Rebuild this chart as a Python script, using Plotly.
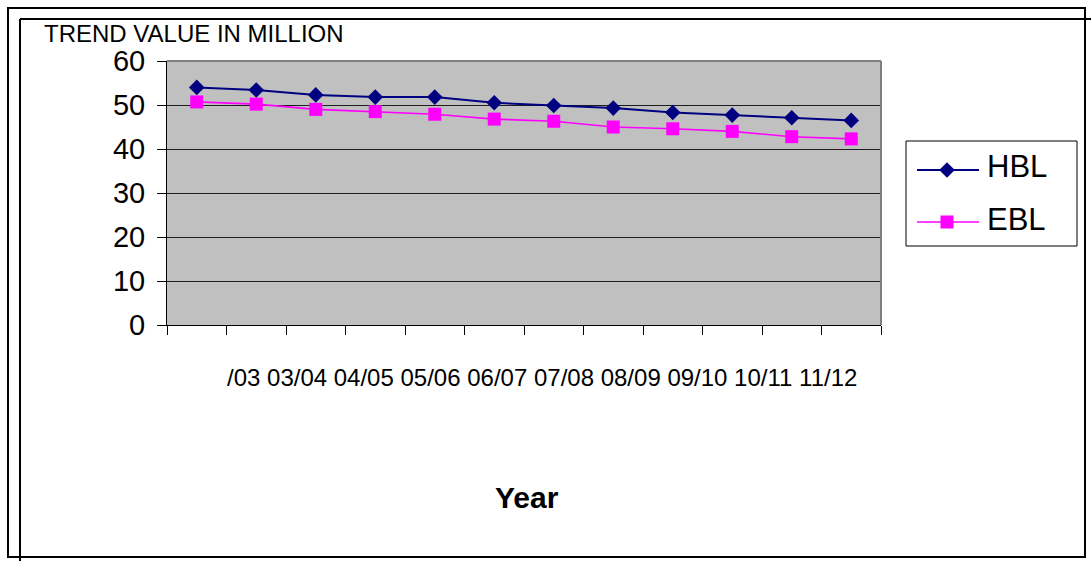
import plotly.graph_objects as go

# Trend values (in million) for the two banks, one point per fiscal year
periods = list(range(1, 13))
hbl = [54.0, 53.4, 52.3, 51.8, 51.8, 50.5, 49.9, 49.3, 48.3, 47.7, 47.1, 46.5]
ebl = [50.7, 50.2, 49.0, 48.5, 47.9, 46.8, 46.3, 45.0, 44.6, 44.0, 42.8, 42.3]
year_labels = ["/03", "03/04", "04/05", "05/06", "06/07", "07/08",
               "08/09", "09/10", "10/11", "11/12"]
y_ticks = [0, 10, 20, 30, 40, 50, 60]

W, H = 1091, 561
FONT = "Liberation Sans, Arial, sans-serif"
NAVY = "#000080"
MAGENTA = "#FF00FF"


def fx(px):
    return px / W


def fy(py):
    return 1 - py / H


# plot area in pixels
PL, PR, PT, PB = 167, 881, 61, 325

fig = go.Figure()

fig.add_trace(go.Scatter(
    x=periods, y=hbl, name="HBL", mode="lines+markers",
    line=dict(color=NAVY, width=2),
    marker=dict(symbol="diamond", size=12, color=NAVY),
    xaxis="x", yaxis="y", showlegend=False,
))
fig.add_trace(go.Scatter(
    x=periods, y=ebl, name="EBL", mode="lines+markers",
    line=dict(color=MAGENTA, width=1.6),
    marker=dict(symbol="square", size=13, color=MAGENTA),
    xaxis="x", yaxis="y", showlegend=False,
))

# legend key samples drawn on a small overlay axis (pixel units)
LG_L, LG_R, LG_T, LG_B = 906, 1077, 141, 246
legend_rows = [("HBL", NAVY, "diamond", 12, 2, 170),
               ("EBL", MAGENTA, "square", 13, 1.6, 222)]
for name, color, sym, size, lw, row_y in legend_rows:
    fig.add_trace(go.Scatter(
        x=[917, 979], y=[row_y, row_y], mode="lines",
        line=dict(color=color, width=lw), xaxis="x2", yaxis="y2",
        showlegend=False, hoverinfo="skip",
    ))
    fig.add_trace(go.Scatter(
        x=[947], y=[row_y], mode="markers",
        marker=dict(symbol=sym, size=size, color=color), xaxis="x2", yaxis="y2",
        showlegend=False, hoverinfo="skip",
    ))

shapes = [
    # plot area fill
    dict(type="rect", xref="paper", yref="paper", x0=fx(PL), x1=fx(PR), y0=fy(PB), y1=fy(PT),
         fillcolor="#C0C0C0", line=dict(width=0), layer="below"),
    # legend box
    dict(type="rect", xref="paper", yref="paper", x0=fx(LG_L), x1=fx(LG_R), y0=fy(LG_B), y1=fy(LG_T),
         fillcolor="white", line=dict(color="black", width=1), layer="below"),
    # plot area top / right border
    dict(type="line", xref="paper", yref="paper", x0=fx(PL), x1=fx(PR), y0=fy(PT), y1=fy(PT),
         line=dict(color="#808080", width=2)),
    dict(type="line", xref="paper", yref="paper", x0=fx(PR), x1=fx(PR), y0=fy(PT), y1=fy(PB),
         line=dict(color="#808080", width=2)),
    # chart frames
    dict(type="rect", xref="paper", yref="paper", x0=fx(8), x1=fx(1085), y0=fy(557), y1=fy(8),
         line=dict(color="black", width=2)),
    dict(type="line", xref="paper", yref="paper", x0=fx(20), x1=fx(1091), y0=fy(19), y1=fy(19),
         line=dict(color="black", width=2)),
    dict(type="line", xref="paper", yref="paper", x0=fx(20), x1=fx(20), y0=fy(19), y1=fy(561),
         line=dict(color="black", width=2)),
]

annotations = [
    dict(text="TREND VALUE IN MILLION", xref="paper", yref="paper", x=fx(42), y=fy(34),
         xanchor="left", yanchor="middle", showarrow=False,
         font=dict(family=FONT, size=24, color="black")),
    dict(text=" ".join(year_labels), xref="paper", yref="paper", x=fx(225), y=fy(377),
         xanchor="left", yanchor="middle", showarrow=False,
         font=dict(family=FONT, size=24, color="black")),
    dict(text="<b>Year</b>", xref="paper", yref="paper", x=fx(527), y=fy(497),
         xanchor="center", yanchor="middle", showarrow=False,
         font=dict(family=FONT, size=30, color="black")),
]
for name, color, sym, size, lw, row_y in legend_rows:
    annotations.append(dict(
        text=name, xref="paper", yref="paper", x=fx(985), y=fy(row_y - 3),
        xanchor="left", yanchor="middle", showarrow=False,
        font=dict(family=FONT, size=31, color="black")))

fig.update_layout(
    width=W, height=H, template="none",
    margin=dict(l=0, r=0, t=0, b=0, pad=0),
    paper_bgcolor="white", plot_bgcolor="rgba(0,0,0,0)",
    showlegend=False,
    shapes=shapes, annotations=annotations,
    xaxis=dict(
        domain=[fx(PL), fx(PR)], range=[0.5, 12.5], anchor="y",
        tickmode="array", tickvals=[i + 0.5 for i in range(0, 13)],
        showticklabels=False, ticks="outside", ticklen=9, tickcolor="black", tickwidth=1,
        showline=True, linecolor="black", linewidth=1,
        showgrid=False, zeroline=False, automargin=False, fixedrange=True,
    ),
    yaxis=dict(
        domain=[fy(PB), fy(PT)], range=[0, 60], anchor="x",
        tickmode="array", tickvals=y_ticks, ticktext=[str(v) for v in y_ticks],
        ticks="outside", ticklen=9, tickcolor="black", tickwidth=1,
        tickfont=dict(family=FONT, size=29, color="black"),
        ticklabelstandoff=6,
        showline=True, linecolor="black", linewidth=1,
        showgrid=True, gridcolor="#1e1e1e", gridwidth=1,
        zeroline=False, automargin=False, fixedrange=True,
    ),
    xaxis2=dict(domain=[fx(LG_L), fx(LG_R)], range=[LG_L, LG_R], anchor="y2",
                visible=False, fixedrange=True),
    yaxis2=dict(domain=[fy(LG_B), fy(LG_T)], range=[LG_B, LG_T], anchor="x2",
                visible=False, fixedrange=True),
)

fig.write_html("out.html", config={"displayModeBar": False})
